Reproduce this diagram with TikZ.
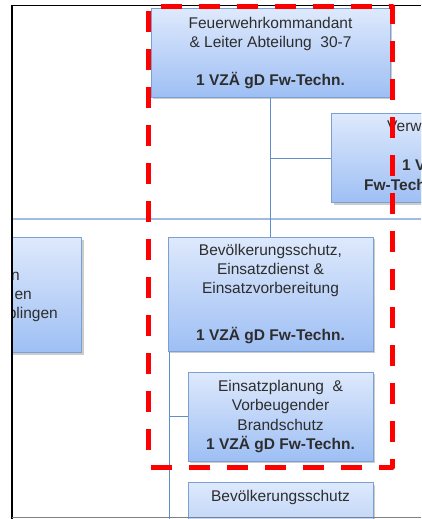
\documentclass[tikz,border=0pt]{standalone}
\usepackage{fontspec}
\setmainfont{Liberation Sans}
\usepackage{xcolor}
\usepackage{tikz}
\usetikzlibrary{shadows, calc}

\definecolor{boxtop}{RGB}{222,233,252}
\definecolor{boxbottom}{RGB}{158,191,244}
\definecolor{boxline}{RGB}{122,160,212}
\definecolor{linkblue}{RGB}{96,142,202}
\definecolor{busblue}{RGB}{160,188,224}
\definecolor{textgray}{RGB}{45,45,45}

\tikzset{
  orgbox/.style={draw=boxline, line width=1pt, top color=boxtop, bottom color=boxbottom,
    inner sep=0pt, align=center, text=textgray, font=\fontsize{15.5}{19.2}\selectfont,
    execute at begin node={\rule{0pt}{15.5pt}},
    drop shadow={shadow xshift=2pt, shadow yshift=-2pt, opacity=0.4}},
  cuttext/.style={inner sep=0pt, text=textgray, font=\fontsize{15.5}{19.2}\selectfont},
  link/.style={linkblue, line width=0.9pt},
  bus/.style={busblue, line width=1.5pt}
}

\begin{document}
\begin{tikzpicture}[x=1pt,y=-1pt]
  \useasboundingbox (0,0) rectangle (421,519);
  \fill[white] (0,0) rectangle (421,519);
  \clip (0,0) rectangle (421,519);

  \begin{scope}
    \clip (12,5.5) rectangle (421,519);

    % Bus line
    \coordinate (busL) at (12,219);
    \coordinate (busR) at (421,219);
    \draw[bus] (busL) -- (busR);

    % Boxes
    \node[orgbox, minimum width=239pt, minimum height=88pt] (kommandant) at (270.5,53)
      {Feuerwehrkommandant\\ \& Leiter Abteilung~~30-7\\[18pt] \textbf{1 VZÄ gD Fw-Techn.}};
    \node[orgbox, minimum width=200pt, minimum height=89pt, anchor=north west] (verw) at (331,113) {};
    \node[orgbox, minimum width=205pt, minimum height=114pt] (bevoelk) at (270.5,294)
      {Bevölkerungsschutz,\\ Einsatzdienst \&\\ Einsatzvorbereitung\\[28pt] \textbf{1 VZÄ gD Fw-Techn.}};
    \node[orgbox, minimum width=185pt, minimum height=89pt] (einsatz) at (280.5,416.5)
      {Einsatzplanung~~\&\\ Vorbeugender\\ Brandschutz\\ \textbf{1 VZÄ gD Fw-Techn.}};
    \node[orgbox, minimum width=185pt, minimum height=89pt, anchor=north] (bschutz) at (280.5,482) {};
    \node[orgbox, minimum width=160pt, minimum height=115pt, anchor=north east] (links) at (82,237) {};

    % Texts of cut boxes
    \node[cuttext, anchor=base west] (verw1) at (387,131) {Verwaltung};
    \node[cuttext, anchor=base west] (verw2) at (402,170) {\textbf{1 VZÄ}};
    \node[cuttext, anchor=base west] (verw3) at (364,190) {\textbf{Fw-Techn.}};
    \node[cuttext, anchor=base] (bschutz1) at (280.5,501) {Bevölkerungsschutz};
    \node[cuttext, anchor=base east] (links1) at (20,280) {n};
    \node[cuttext, anchor=base east] (links2) at (32,299) {en};
    \node[cuttext, anchor=base east] (links3) at (58,318) {blingen};

    % Connectors
    \draw[link] (kommandant.south) -- (bevoelk.north);
    \draw[link] (kommandant.south |- verw.west) -- (verw.west);
    \coordinate (stem) at ($(bevoelk.south west)+(1.5,0)$);
    \draw[link] (stem) -- (stem |- bschutz.west);
    \draw[link] (stem |- einsatz.west) -- (einsatz.west);
    \draw[link] (stem |- bschutz.west) -- (bschutz.west);
  \end{scope}

  % Frame
  \draw[black, line width=1.5pt] (12,519) -- (12,5.5) -- (421,5.5);
  \draw[gray, line width=1.2pt] (12,517.5) -- (421,517.5);

  % Red dashed marking
  \draw[red, line width=5pt, dash pattern=on 21pt off 17pt, dash phase=21pt, line join=round]
    (148,467) -- (148,6.5) -- (392,6.5) -- (392,467) -- cycle;
\end{tikzpicture}
\end{document}
